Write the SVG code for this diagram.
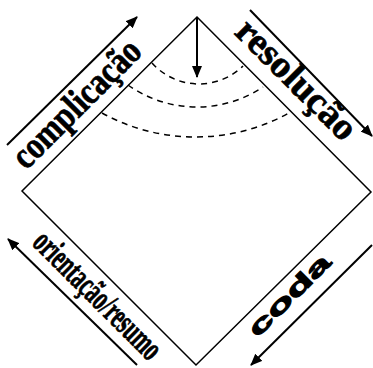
<svg xmlns="http://www.w3.org/2000/svg" width="373" height="368" viewBox="0 0 373 368">
<style>
.edge{fill:none;stroke:#000;stroke-width:1.5}
.arr{fill:none;stroke:#000;stroke-width:2}
.dash{fill:none;stroke:#000;stroke-width:1.5;stroke-dasharray:6 5}
.serif{font-family:"Liberation Serif","Times New Roman",serif;font-weight:bold;fill:#000;stroke:#000;stroke-width:0.7}
.sans{font-family:"Liberation Sans",Arial,sans-serif;font-weight:bold;fill:#000;stroke:#000;stroke-width:1}
</style>
<defs>
<marker id="ah" viewBox="0 0 12 10" refX="11" refY="5" markerWidth="12" markerHeight="10" markerUnits="userSpaceOnUse" orient="auto">
<path d="M0,0 L12,5 L0,10 Z" fill="#000"/>
</marker>
</defs>
<rect width="373" height="368" fill="#fff"/>
<g id="diamond">
<path class="edge" d="M197,17 L371,192 L196,365 L22,191 Z"/>
</g>
<g id="arcs">
<path class="dash" d="M152,63 A63,63 0 0 0 243,66"/>
<path class="dash" d="M128,85 A119,119 0 0 0 263,87"/>
<path class="dash" d="M102,113 A194,194 0 0 0 289,113"/>
</g>
<g id="connectors">
<line class="arr" x1="197" y1="17" x2="197" y2="77" marker-end="url(#ah)"/>
<line class="arr" x1="7" y1="145" x2="137" y2="17" marker-end="url(#ah)"/>
<line class="arr" x1="250" y1="10" x2="372" y2="136" marker-end="url(#ah)"/>
<line class="arr" x1="137" y1="365" x2="8" y2="239" marker-end="url(#ah)"/>
<line class="arr" x1="372" y1="245" x2="251" y2="365" marker-end="url(#ah)"/>
</g>
<g id="label-complicacao">
<text class="serif" x="85" y="112" font-size="38" text-anchor="middle" textLength="166" lengthAdjust="spacingAndGlyphs" transform="rotate(-45 85 112)">complicação</text>
</g>
<g id="label-resolucao">
<text class="serif" x="288" y="88" font-size="38" text-anchor="middle" textLength="155" lengthAdjust="spacingAndGlyphs" transform="rotate(45 288 88)">resolução</text>
</g>
<g id="label-orientacao">
<text class="serif" x="90" y="303" font-size="35" text-anchor="middle" textLength="167" lengthAdjust="spacingAndGlyphs" transform="rotate(45 90 303)">orientação/resumo</text>
</g>
<g id="label-coda">
<text class="sans" x="295" y="301" font-size="24" text-anchor="middle" textLength="106" lengthAdjust="spacingAndGlyphs" transform="rotate(-45 295 301)">coda</text>
</g>
</svg>
